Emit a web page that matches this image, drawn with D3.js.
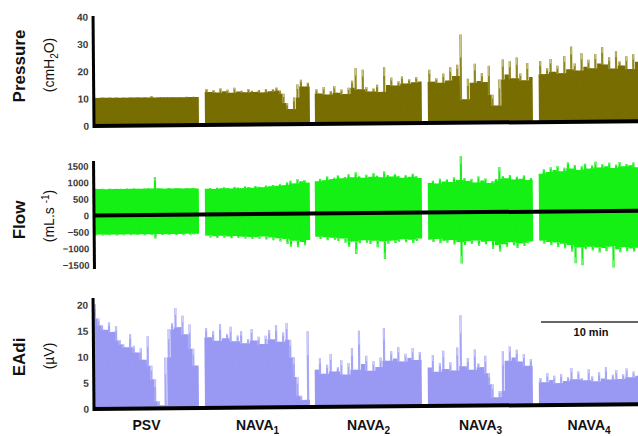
<!DOCTYPE html>
<html>
<head>
<meta charset="utf-8">
<script src="https://cdn.jsdelivr.net/npm/d3@7"></script>
<style>
  body { margin: 0; background: #fff; }
  text { font-family: Arial, "Liberation Sans", sans-serif; }
</style>
</head>
<body>
<div id="plot"></div>
<script>
// ventilation modes, each recorded over about 10.5 min
var modes = ["PSV", "NAVA1", "NAVA2", "NAVA3", "NAVA4"];
var modeSub = ["", "1", "2", "3", "4"];
var segStart = [0, 11.1, 22.1, 33.4, 44.5];
var segEnd = [10.5, 21.6, 32.8, 43.9, 54.5];

// airway pressure, cmH2O (peaks per breath group)
var pressure = [
  [10.4,10.3,10.4,10.3,10.4,10.3,10.4,10.3,10.4,10.3,10.4,10.3,10.4,10.3,10.4,10.3,10.8,10.3,10.4,10.3,10.4,10.3,10.4,10.3,10.4,10.3,10.4,10.3,10.4,10.3],
  [13.2,12.1,12.8,11.9,13.4,12.3,12.9,11.8,13.6,12.2,12.5,11.9,13.1,12.4,12.0,12.7,11.8,13.0,12.2,12.9,13.5,12.4,11.2,7.8,5.6,9.8,14.6,16.3,13.8,15.2],
  [12.8,11.2,13.6,10.8,12.1,13.9,11.4,12.6,10.9,13.2,15.8,20.4,12.6,19.8,13.4,11.8,12.9,14.2,11.6,20.6,14.1,16.8,13.9,15.4,17.2,14.6,16.1,15.0,16.9,15.3],
  [19.6,15.2,16.4,14.8,18.1,15.6,20.4,17.2,21.3,32.4,8.6,16.1,14.7,21.6,15.3,18.2,14.9,20.8,10.2,6.2,15.8,23.1,17.6,22.4,16.2,23.8,17.9,15.4,21.7,16.6],
  [22.4,17.6,19.8,23.1,18.4,20.6,17.9,24.2,19.3,27.6,21.4,18.8,25.1,20.2,22.7,19.6,24.8,21.3,27.4,20.9,23.6,19.4,25.8,22.1,20.5,23.9,19.2,24.6,21.8]
];

// flow, mL/s : inspiratory peaks and expiratory peaks
var flowIn = [
  [810,800,805,795,810,800,805,800,795,810,800,805,800,795,805,810,800,1150,805,800,795,810,800,805,800,795,810,800,805,790],
  [780,800,770,810,790,820,800,780,830,810,790,840,820,800,850,830,810,860,840,880,850,900,870,950,1000,920,1050,980,1020,940],
  [980,1050,1010,1120,1040,1080,1150,1060,1100,1180,1090,1240,1120,1070,1160,1100,1210,1130,1080,1260,1150,1100,1170,1120,1060,1140,1090,1180,1110,1050],
  [900,960,880,1020,940,1000,920,1060,980,1700,1040,950,1010,900,1080,960,1020,880,940,1000,1360,1080,1020,1120,980,1060,1000,1100,960,1020],
  [1150,1280,1200,1340,1260,1380,1220,1320,1480,1300,1400,1250,1360,1440,1290,1380,1500,1320,1420,1360,1460,1300,1400,1480,1350,1420,1380,1460,1320]
];
var flowOut = [
  [-590,-580,-595,-585,-590,-580,-595,-585,-590,-580,-595,-585,-590,-580,-595,-585,-590,-700,-580,-595,-585,-590,-580,-595,-585,-590,-580,-595,-585,-580],
  [-640,-680,-660,-700,-650,-690,-670,-710,-660,-700,-680,-720,-690,-740,-700,-730,-680,-760,-710,-780,-740,-820,-760,-900,-980,-820,-1000,-860,-940,-800],
  [-700,-760,-720,-800,-740,-780,-820,-760,-880,-1000,-860,-1220,-900,-820,-880,-920,-840,-1020,-860,-1380,-920,-840,-900,-860,-800,-880,-820,-900,-840,-780],
  [-820,-880,-800,-920,-860,-900,-840,-960,-900,-1540,-980,-880,-940,-860,-1000,-900,-960,-880,-1100,-1000,-1180,-980,-1040,-920,-1000,-1080,-960,-1020,-940,-900],
  [-880,-960,-920,-1000,-940,-1060,-980,-1100,-1020,-1200,-1560,-1100,-1620,-1140,-1080,-1180,-1100,-1240,-1120,-1200,-1080,-1700,-1160,-1240,-1100,-1200,-1140,-1220,-1120]
];

// diaphragm electrical activity, µV
var eadi = [
  [20.2,17.4,16.1,15.2,16.6,14.8,15.9,13.2,12.4,11.8,14.3,12.1,10.8,11.6,9.4,13.9,8.2,5.6,1.4,0.6,9.8,15.2,16.4,19.3,15.6,17.8,14.2,16.1,11.4,8.2],
  [15.4,13.6,14.8,12.9,16.1,13.4,14.2,15.6,12.8,13.9,14.7,12.4,13.2,15.1,12.9,13.6,12.2,13.8,14.9,13.1,15.8,12.6,14.4,16.2,13.0,9.6,5.8,2.2,1.4,14.6],
  [7.2,9.4,6.4,8.1,10.2,6.8,7.6,9.0,6.2,8.4,11.3,7.1,14.6,8.2,9.8,6.9,8.7,7.6,9.4,15.1,8.8,10.6,9.2,11.4,8.6,10.1,9.3,11.2,8.9,10.4],
  [7.4,9.8,6.6,8.2,10.6,7.1,8.4,6.8,11.2,17.4,7.6,9.2,6.9,10.8,8.1,7.4,9.6,6.2,4.1,1.6,2.8,10.4,8.6,11.3,9.2,10.7,8.4,9.8,7.6,8.9],
  [5.2,4.4,6.1,4.8,5.6,4.2,5.9,4.6,5.3,7.1,4.9,6.4,5.1,4.7,6.8,5.4,4.5,6.2,5.0,7.2,4.8,5.7,6.6,4.9,5.8,6.9,5.2,6.3,5.5]
];

var pressureTicks = [0, 10, 20, 30, 40];
var flowTicks = [-1500, -1000, -500, 0, 500, 1000, 1500];
var eadiTicks = [0, 5, 10, 15, 20];

var width = 638, height = 436;

var svg = d3.select("#plot").append("svg")
  .attr("width", width)
  .attr("height", height);

var x = d3.scaleLinear().domain([0, 54.6]).range([94, 640]);

// turn the segment arrays into bars
function makeBars(series) {
  var out = [];
  series.forEach(function (vals, s) {
    var n = vals.length, step = (segEnd[s] - segStart[s]) / n;
    vals.forEach(function (v, i) {
      var a = vals[Math.max(i - 1, 0)], b = vals[Math.min(i + 1, n - 1)];
      var body = v >= 0 ? Math.min(a, v, b) : Math.max(a, v, b);
      out.push({ t0: segStart[s] + i * step, t1: segStart[s] + (i + 1) * step, v: v, body: body, last: i === n - 1 });
    });
  });
  return out;
}

function panel(opt) {
  var y = d3.scaleLinear().domain(opt.domain).range(opt.range);
  var g = svg.append("g")
    .attr("transform", "rotate(-0.5," + 94 + "," + y(0) + ")");

  opt.series.forEach(function (series) {
    var bars = makeBars(series);
    g.append("g").selectAll("rect")
      .data(bars)
      .join("rect")
      .attr("x", d => x(d.t0))
      .attr("width", d => x(d.t1) - x(d.t0) + (d.last ? 0 : 0.8))
      .attr("y", d => Math.min(y(0), y(d.body)))
      .attr("height", d => Math.abs(y(d.body) - y(0)))
      .attr("fill", opt.color);
    // spike of each breath group: darker core, pale tip
    var spikes = bars.filter(d => d.v !== d.body);
    g.append("g").selectAll("rect")
      .data(spikes)
      .join("rect")
      .attr("x", d => (x(d.t0) + x(d.t1)) / 2 - 1.1)
      .attr("width", 2.2)
      .attr("y", d => Math.min(y(d.v), y(d.body)))
      .attr("height", d => Math.abs(y(d.v) - y(d.body)) + 0.5)
      .attr("fill", opt.mid);
    g.append("g").selectAll("rect")
      .data(spikes)
      .join("rect")
      .attr("x", d => (x(d.t0) + x(d.t1)) / 2 - 0.6)
      .attr("width", 1.2)
      .attr("y", d => d.v >= 0 ? y(d.v) : y(d.v) - Math.abs(y(d.v) - y(d.body)) * 0.35)
      .attr("height", d => Math.abs(y(d.v) - y(d.body)) * 0.35)
      .attr("fill", opt.tip);
  });

  // zero / base line
  g.append("line")
    .attr("x1", 93).attr("x2", 642)
    .attr("y1", y(0)).attr("y2", y(0))
    .attr("stroke", "#000").attr("stroke-width", 4);

  // y axis
  g.append("line")
    .attr("x1", 94).attr("x2", 94)
    .attr("y1", opt.axisTop).attr("y2", opt.axisBottom)
    .attr("stroke", "#000").attr("stroke-width", 3);

  var ax = g.append("g")
    .attr("transform", "translate(89,0)")
    .call(d3.axisLeft(y).tickValues(opt.ticks).tickFormat(d3.format("d")).tickSize(0).tickPadding(0));
  ax.select(".domain").remove();
  ax.selectAll("text")
    .attr("fill", "#3a3a3a")
    .style("font-size", opt.tickFont + "px")
    .style("font-weight", "bold")
    .style("font-family", "Arial, 'Liberation Sans', sans-serif");
  return y;
}

panel({ series: [pressure], domain: [0, 40], range: [126, 17], color: "#776d00", mid: "#8f8620", tip: "#cdc78f",
  ticks: pressureTicks, axisTop: 16, axisBottom: 128, tickFont: 10 });
panel({ series: [flowIn, flowOut], domain: [-1500, 1500], range: [265, 166], color: "#14f014", mid: "#14f014", tip: "#6ff86f",
  ticks: flowTicks, axisTop: 161, axisBottom: 269, tickFont: 9.5 });
panel({ series: [eadi], domain: [0, 20], range: [409, 305], color: "#9999f4", mid: "#a6a6f6", tip: "#d0d0fb",
  ticks: eadiTicks, axisTop: 298, axisBottom: 411, tickFont: 10 });

// axis titles
function vtitle(cx, cy, size, weight) {
  return svg.append("text")
    .attr("transform", "translate(" + cx + "," + cy + ") rotate(-90)")
    .attr("text-anchor", "middle")
    .style("font-size", size + "px")
    .style("font-weight", weight)
    .attr("fill", "#111");
}
vtitle(25, 66, 17, "bold").text("Pressure");
var t1 = vtitle(54, 65, 14, "normal");
t1.append("tspan").text("(cmH");
t1.append("tspan").attr("dy", 4).style("font-size", "10px").text("2");
t1.append("tspan").attr("dy", -4).text("O)");

vtitle(25, 220, 17, "bold").text("Flow");
var t2 = vtitle(54, 216, 14, "normal");
t2.append("tspan").text("(mL.s ");
t2.append("tspan").attr("dy", -5).style("font-size", "10px").text("-1");
t2.append("tspan").attr("dy", 5).text(")");

vtitle(25, 357, 17, "bold").text("EAdi");
vtitle(54, 356, 14, "normal").text("(µV)");

// mode labels
modes.forEach(function (m, i) {
  var t = svg.append("text")
    .attr("x", x((segStart[i] + segEnd[i]) / 2))
    .attr("y", 430)
    .attr("text-anchor", "middle")
    .style("font-size", "14px")
    .style("font-weight", "bold")
    .attr("fill", "#111");
  t.append("tspan").text(i === 0 ? m : "NAVA");
  if (modeSub[i]) t.append("tspan").attr("dy", 4).style("font-size", "10px").text(modeSub[i]);
});

// 10 min scale bar
svg.append("line")
  .attr("x1", x(44.7)).attr("x2", x(54.7))
  .attr("y1", 322).attr("y2", 322)
  .attr("stroke", "#333").attr("stroke-width", 1.5);
svg.append("text")
  .attr("x", x(49.7)).attr("y", 336)
  .attr("text-anchor", "middle")
  .style("font-size", "11px")
  .style("font-weight", "bold")
  .attr("fill", "#111")
  .text("10 min");
</script>
</body>
</html>
